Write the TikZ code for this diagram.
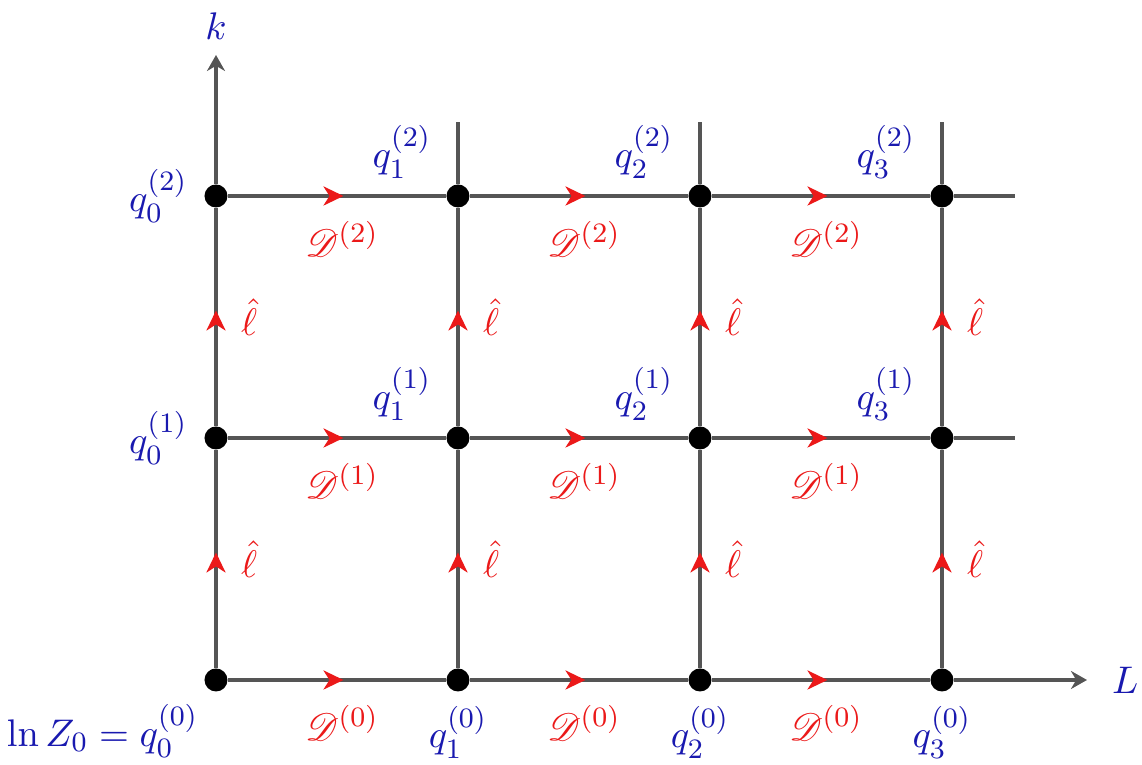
\documentclass[tikz,border=0pt]{standalone}
\usepackage{amsmath}
\usepackage{amssymb}
\usepackage{mathrsfs}
\usetikzlibrary{positioning, arrows.meta, decorations.markings}
\definecolor{qblue}{RGB}{25,25,175}
\definecolor{flowred}{RGB}{235,25,25}
\definecolor{gridgray}{RGB}{85,85,85}
\tikzset{
  site/.style={circle, fill=black, inner sep=0pt, minimum size=0.23cm},
  gridline/.style={draw=gridgray, line width=0.9pt},
  axis/.style={gridline, -{Stealth[length=1.6mm, width=1.8mm]}},
  flow/.style={gridline, postaction={decorate},
    decoration={markings, mark=at position 0.53 with
      {\arrow[flowred]{Stealth[length=2mm, width=1.9mm, inset=0.6mm]}}}},
  qlab/.style={text=qblue, inner sep=1pt, font=\fontsize{11}{13}\selectfont},
  oplab/.style={text=flowred, inner sep=1pt, font=\fontsize{11}{13}\selectfont},
}
\newcommand{\Dop}[1]{\mathscr{D}^{(#1)}}
\newcommand{\lhat}{\hat{\ell}}

\begin{document}
\begin{tikzpicture}
  \useasboundingbox (-2.16,-0.85) rectangle (9.26,6.80);

  % lattice sites
  \node[site] (v00) at (0,0)       {};
  \node[site] (v10) at (2.42,0)    {};
  \node[site] (v20) at (4.84,0)    {};
  \node[site] (v30) at (7.26,0)    {};
  \node[site] (v01) at (0,2.42)    {};
  \node[site] (v11) at (2.42,2.42) {};
  \node[site] (v21) at (4.84,2.42) {};
  \node[site] (v31) at (7.26,2.42) {};
  \node[site] (v02) at (0,4.84)    {};
  \node[site] (v12) at (2.42,4.84) {};
  \node[site] (v22) at (4.84,4.84) {};
  \node[site] (v32) at (7.26,4.84) {};

  % free ends
  \coordinate (kend)  at (0,6.25);
  \coordinate (Lend)  at (8.71,0);
  \coordinate (c1end) at (2.42,5.58);
  \coordinate (c2end) at (4.84,5.58);
  \coordinate (c3end) at (7.26,5.58);
  \coordinate (r1end) at (7.99,2.42);
  \coordinate (r2end) at (7.99,4.84);

  % axes
  \draw[axis] (v02) -- (kend) node[qlab, above=0.1cm] (klab) {$k$};
  \draw[axis] (v30) -- (Lend) node[qlab, right=0.2cm] (Llab) {$L$};
  \draw[gridline] (v12) -- (c1end);
  \draw[gridline] (v22) -- (c2end);
  \draw[gridline] (v32) -- (c3end);
  \draw[gridline] (v31) -- (r1end);
  \draw[gridline] (v32) -- (r2end);

  % horizontal steps
  \draw[flow] (v00) -- (v10) node[oplab, midway, below=0.2cm, xshift=0.5mm] {$\Dop{0}$};
  \draw[flow] (v10) -- (v20) node[oplab, midway, below=0.2cm, xshift=0.5mm] {$\Dop{0}$};
  \draw[flow] (v20) -- (v30) node[oplab, midway, below=0.2cm, xshift=0.5mm] {$\Dop{0}$};
  \draw[flow] (v01) -- (v11) node[oplab, midway, below=0.2cm, xshift=0.5mm] {$\Dop{1}$};
  \draw[flow] (v11) -- (v21) node[oplab, midway, below=0.2cm, xshift=0.5mm] {$\Dop{1}$};
  \draw[flow] (v21) -- (v31) node[oplab, midway, below=0.2cm, xshift=0.5mm] {$\Dop{1}$};
  \draw[flow] (v02) -- (v12) node[oplab, midway, below=0.2cm, xshift=0.5mm] {$\Dop{2}$};
  \draw[flow] (v12) -- (v22) node[oplab, midway, below=0.2cm, xshift=0.5mm] {$\Dop{2}$};
  \draw[flow] (v22) -- (v32) node[oplab, midway, below=0.2cm, xshift=0.5mm] {$\Dop{2}$};

  % vertical steps
  \draw[flow] (v00) -- (v01) node[oplab, midway, right=0.2cm] {$\lhat$};
  \draw[flow] (v10) -- (v11) node[oplab, midway, right=0.2cm] {$\lhat$};
  \draw[flow] (v20) -- (v21) node[oplab, midway, right=0.2cm] {$\lhat$};
  \draw[flow] (v30) -- (v31) node[oplab, midway, right=0.2cm] {$\lhat$};
  \draw[flow] (v01) -- (v02) node[oplab, midway, right=0.2cm] {$\lhat$};
  \draw[flow] (v11) -- (v12) node[oplab, midway, right=0.2cm] {$\lhat$};
  \draw[flow] (v21) -- (v22) node[oplab, midway, right=0.2cm] {$\lhat$};
  \draw[flow] (v31) -- (v32) node[oplab, midway, right=0.2cm] {$\lhat$};

  % site labels
  \node[qlab, below left=0.12cm and 0.05cm of v00] (q00) {$\ln Z_0 = q_0^{(0)}$};
  \node[qlab, below=0.1cm of v10] (q10) {$q_1^{(0)}$};
  \node[qlab, below=0.1cm of v20] (q20) {$q_2^{(0)}$};
  \node[qlab, below=0.1cm of v30] (q30) {$q_3^{(0)}$};
  \node[qlab, left=0.12cm of v01] (q01) {$q_0^{(1)}$};
  \node[qlab, above left=0.05cm and 0.14cm of v11] (q11) {$q_1^{(1)}$};
  \node[qlab, above left=0.05cm and 0.14cm of v21] (q21) {$q_2^{(1)}$};
  \node[qlab, above left=0.05cm and 0.14cm of v31] (q31) {$q_3^{(1)}$};
  \node[qlab, left=0.12cm of v02] (q02) {$q_0^{(2)}$};
  \node[qlab, above left=0.05cm and 0.14cm of v12] (q12) {$q_1^{(2)}$};
  \node[qlab, above left=0.05cm and 0.14cm of v22] (q22) {$q_2^{(2)}$};
  \node[qlab, above left=0.05cm and 0.14cm of v32] (q32) {$q_3^{(2)}$};
\end{tikzpicture}
\end{document}
